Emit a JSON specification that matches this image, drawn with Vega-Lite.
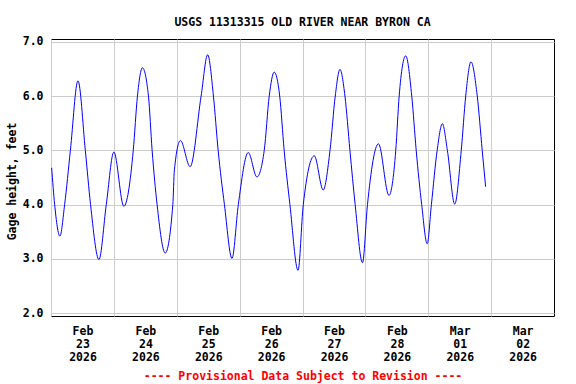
{
  "$schema": "https://vega.github.io/schema/vega-lite/v6.json",
  "width": 503,
  "height": 277,
  "autosize": "none",
  "padding": {"left": 51, "top": 39, "right": 22, "bottom": 68},
  "background": "white",
  "title": {
    "text": "USGS 11313315 OLD RIVER NEAR BYRON CA",
    "font": "DejaVu Sans Mono",
    "fontWeight": "bold",
    "fontSize": 11.5,
    "color": "black",
    "anchor": "middle",
    "offset": 7
  },
  "config": {
    "view": {"stroke": "black", "strokeWidth": 1},
    "axis": {
      "labelFont": "DejaVu Sans Mono",
      "labelFontWeight": "bold",
      "labelFontSize": 11.5,
      "labelColor": "black",
      "titleFont": "DejaVu Sans Mono",
      "titleFontWeight": "bold",
      "titleFontSize": 11.5,
      "titleColor": "black",
      "gridColor": "#cccccc",
      "gridWidth": 1,
      "gridOpacity": 1,
      "domain": false,
      "ticks": false
    }
  },
  "data": {
    "values": [
      {"time": "2026-02-23T00:15", "gage": 4.68},
      {"time": "2026-02-23T01:24", "gage": 4.0},
      {"time": "2026-02-23T03:24", "gage": 3.42},
      {"time": "2026-02-23T05:12", "gage": 4.0},
      {"time": "2026-02-23T07:24", "gage": 5.0},
      {"time": "2026-02-23T10:18", "gage": 6.28},
      {"time": "2026-02-23T13:06", "gage": 5.0},
      {"time": "2026-02-23T15:06", "gage": 4.0},
      {"time": "2026-02-23T18:18", "gage": 2.99},
      {"time": "2026-02-23T21:06", "gage": 4.0},
      {"time": "2026-02-24T00:00", "gage": 4.97},
      {"time": "2026-02-24T03:48", "gage": 3.97},
      {"time": "2026-02-24T07:24", "gage": 5.0},
      {"time": "2026-02-24T09:00", "gage": 6.0},
      {"time": "2026-02-24T10:54", "gage": 6.52},
      {"time": "2026-02-24T13:12", "gage": 6.0},
      {"time": "2026-02-24T14:36", "gage": 5.0},
      {"time": "2026-02-24T16:30", "gage": 4.0},
      {"time": "2026-02-24T19:36", "gage": 3.11},
      {"time": "2026-02-24T22:30", "gage": 4.0},
      {"time": "2026-02-24T23:06", "gage": 4.64},
      {"time": "2026-02-25T01:24", "gage": 5.18},
      {"time": "2026-02-25T05:06", "gage": 4.7},
      {"time": "2026-02-25T09:18", "gage": 6.0},
      {"time": "2026-02-25T11:48", "gage": 6.76},
      {"time": "2026-02-25T14:00", "gage": 6.0},
      {"time": "2026-02-25T15:48", "gage": 5.0},
      {"time": "2026-02-25T18:12", "gage": 4.0},
      {"time": "2026-02-25T21:06", "gage": 3.01},
      {"time": "2026-02-25T23:30", "gage": 4.0},
      {"time": "2026-02-26T03:18", "gage": 4.96},
      {"time": "2026-02-26T06:36", "gage": 4.51},
      {"time": "2026-02-26T09:24", "gage": 5.0},
      {"time": "2026-02-26T11:18", "gage": 6.0},
      {"time": "2026-02-26T13:12", "gage": 6.44},
      {"time": "2026-02-26T15:18", "gage": 6.0},
      {"time": "2026-02-26T17:00", "gage": 5.0},
      {"time": "2026-02-26T19:12", "gage": 4.0},
      {"time": "2026-02-26T22:18", "gage": 2.79},
      {"time": "2026-02-27T00:18", "gage": 4.0},
      {"time": "2026-02-27T04:30", "gage": 4.9},
      {"time": "2026-02-27T07:54", "gage": 4.27},
      {"time": "2026-02-27T10:30", "gage": 5.0},
      {"time": "2026-02-27T12:30", "gage": 6.0},
      {"time": "2026-02-27T14:18", "gage": 6.49},
      {"time": "2026-02-27T16:12", "gage": 6.0},
      {"time": "2026-02-27T18:06", "gage": 5.0},
      {"time": "2026-02-27T20:06", "gage": 4.0},
      {"time": "2026-02-27T22:54", "gage": 2.93},
      {"time": "2026-02-28T00:48", "gage": 4.0},
      {"time": "2026-02-28T05:00", "gage": 5.12},
      {"time": "2026-02-28T09:00", "gage": 4.17},
      {"time": "2026-02-28T11:36", "gage": 5.0},
      {"time": "2026-02-28T12:54", "gage": 6.0},
      {"time": "2026-02-28T15:24", "gage": 6.74},
      {"time": "2026-02-28T17:42", "gage": 6.0},
      {"time": "2026-02-28T19:24", "gage": 5.0},
      {"time": "2026-02-28T21:30", "gage": 4.0},
      {"time": "2026-02-28T23:36", "gage": 3.28},
      {"time": "2026-03-01T01:12", "gage": 4.0},
      {"time": "2026-03-01T03:24", "gage": 5.0},
      {"time": "2026-03-01T05:24", "gage": 5.49},
      {"time": "2026-03-01T07:18", "gage": 5.0},
      {"time": "2026-03-01T10:06", "gage": 4.01},
      {"time": "2026-03-01T12:36", "gage": 5.0},
      {"time": "2026-03-01T14:18", "gage": 6.0},
      {"time": "2026-03-01T16:18", "gage": 6.63},
      {"time": "2026-03-01T18:42", "gage": 6.0},
      {"time": "2026-03-01T20:36", "gage": 5.0},
      {"time": "2026-03-01T21:54", "gage": 4.33}
    ]
  },
  "mark": {"type": "line", "color": "#0000ff", "strokeWidth": 1, "interpolate": "monotone", "clip": true},
  "encoding": {
    "x": {
      "field": "time",
      "type": "temporal",
      "scale": {
        "domain": [
          {"year": 2026, "month": 2, "date": 23},
          {"year": 2026, "month": 3, "date": 3}
        ]
      },
      "axis": {
        "values": [
          {"year": 2026, "month": 2, "date": 23},
          {"year": 2026, "month": 2, "date": 24},
          {"year": 2026, "month": 2, "date": 25},
          {"year": 2026, "month": 2, "date": 26},
          {"year": 2026, "month": 2, "date": 27},
          {"year": 2026, "month": 2, "date": 28},
          {"year": 2026, "month": 3, "date": 1},
          {"year": 2026, "month": 3, "date": 2}
        ],
        "labelExpr": "[timeFormat(datum.value, '%b'), timeFormat(datum.value, '%d'), timeFormat(datum.value, '%Y')]",
        "labelOffset": 31.5,
        "labelAlign": "center",
        "labelBaseline": "top",
        "labelPadding": 9,
        "labelLineHeight": 13,
        "labelFlush": false,
        "labelOverlap": false,
        "grid": true,
        "title": "---- Provisional Data Subject to Revision ----",
        "titleColor": "#ff0000",
        "titlePadding": 8
      }
    },
    "y": {
      "field": "gage",
      "type": "quantitative",
      "scale": {"domain": [1.95, 7.05], "nice": false, "zero": false},
      "axis": {
        "values": [2, 3, 4, 5, 6, 7],
        "format": ".1f",
        "labelPadding": 8,
        "grid": true,
        "title": "Gage height, feet",
        "titleAngle": 270,
        "titleAlign": "center",
        "titleBaseline": "middle",
        "titleX": -39,
        "titleY": 142
      }
    }
  }
}
